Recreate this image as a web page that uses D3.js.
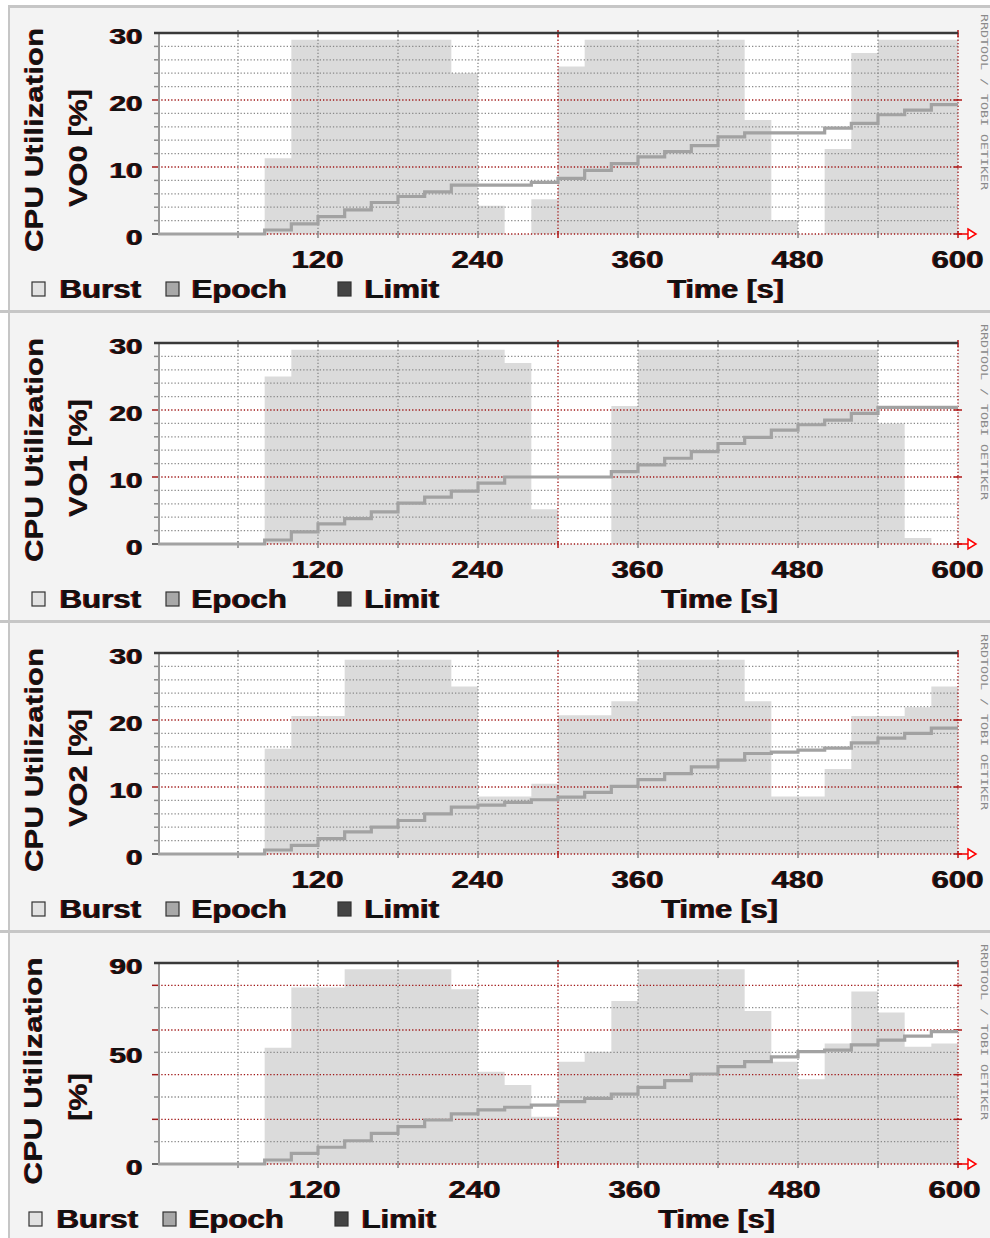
<!DOCTYPE html>
<html><head><meta charset="utf-8">
<script src="https://cdn.jsdelivr.net/npm/d3@7"></script>
<style>html,body{margin:0;padding:0;background:#fff;} svg{display:block}</style>
</head><body><svg id="c" width="990" height="1238"></svg>
<script>
// ---- data ----
const binStart = [0,20,40,60,80,100,120,140,160,180,200,220,240,260,280,300,320,340,360,380,400,420,440,460,480,500,520,540,560,580];
const binEnd = 600;
const panelNames = ["VO0","VO1","VO2",""];
const burstVO0 = [0,0,0,0,11.3,29,29,29,29,29,29,24,4.2,0,5.2,25,29,29,29,29,29,29,17,2.1,0,12.7,27,29,29,29];
const epochVO0 = [0,0,0,0,0.6,1.5,2.6,3.6,4.7,5.6,6.3,7.3,7.3,7.3,7.7,8.3,9.5,10.5,11.5,12.3,13.2,14.5,15.1,15.1,15.1,15.8,16.5,17.8,18.5,19.3];
const burstVO1 = [0,0,0,0,25,29,29,29,29,29,29,29,29,27,5.2,0,0,20.6,29,29,29,29,29,29,29,29,29,18,0.9,0];
const epochVO1 = [0,0,0,0,0.6,1.8,3.0,3.8,4.8,6.1,7.0,7.9,9.1,10,10,10,10,10.8,11.8,12.8,13.8,15,15.9,17,17.8,18.5,19.5,20.4,20.4,20.4];
const burstVO2 = [0,0,0,0,15.7,20.6,20.6,29,29,29,29,25,8.6,8.6,10.5,20.7,20.7,22.8,29,29,29,29,22.8,8.6,8.6,12.7,20.6,20.6,21.9,25];
const epochVO2 = [0,0,0,0,0.6,1.3,2.3,3.3,4.0,5.0,6.0,7.0,7.3,7.7,8.1,8.5,9.2,10.1,11.1,12.0,13,14,15,15.2,15.5,15.8,16.6,17.3,18,18.8];
const burstTotal = [0,0,0,0,52,79,79,87.2,87.2,87.2,87.2,78.2,41.3,35.4,21.2,45.8,50.3,73,87.2,87.2,87.2,87.2,68.5,45.8,38,54,77.2,67.8,52.5,54];
const epochTotal = [0,0,0,0,1.8,4.8,7.5,10.4,13.7,16.7,19.7,22.4,24.2,25.4,26.4,27.9,29.4,31.3,34.3,37.3,40.3,43.6,45.8,48,50.3,51,53.3,55.5,57.3,59.3];
const limitValues = [30,30,30,90];
const yMaxValues = [30,30,30,90];
const yTickLabelsVO = [0,10,20,30];
const yTickLabelsTotal = [0,50,90];
const xTickLabels = [120,240,360,480,600];
const legendLabels = ["Burst","Epoch","Limit"];
const axisTitleX = "Time [s]";
const axisTitleY = "CPU Utilization";
const watermark = "RRDTOOL / TOBI OETIKER";

const bursts = [burstVO0,burstVO1,burstVO2,burstTotal];
const epochs = [epochVO0,epochVO1,epochVO2,epochTotal];

// ---- layout ----
const svg = d3.select("#c");
const PH = 310, L = 158, R = 958, T = 33, B = 234;
const FONT = "'Liberation Sans', Arial, sans-serif";
const SX = 1.25;

function label(g, s, x, y, o) {
  o = o || {};
  const size = o.size || 24, anchor = o.anchor || "start", rot = o.rot || 0, sx = o.sx || SX;
  [["#8a0c0c", -1.2], ["#111", 0]].forEach(([col, dx]) => {
    g.append("text")
      .attr("transform", `translate(${x+dx},${y}) rotate(${rot}) scale(${sx},1)`)
      .attr("text-anchor", anchor)
      .attr("font-family", FONT).attr("font-weight", "bold")
      .attr("font-size", size).attr("fill", col).text(s);
  });
}

svg.append("rect").attr("width", 990).attr("height", 1238).attr("fill", "#fff");
svg.append("rect").attr("x", 10).attr("y", 7).attr("width", 990).attr("height", 1238)
  .attr("fill", "#f3f3f3");
svg.append("line").attr("x1", 9).attr("x2", 9).attr("y1", 5).attr("y2", 1238)
  .attr("stroke", "#c6c6c6").attr("stroke-width", 2);

bursts.forEach((burst, i) => {
  const epoch = epochs[i];
  const ymax = yMaxValues[i];
  const g = svg.append("g").attr("transform", `translate(0,${i*PH})`);
  g.append("rect").attr("x", i === 0 ? 8 : 0).attr("y", i === 0 ? 5 : 0).attr("width", 990).attr("height", 3)
    .attr("fill", "#c6c6c6");

  const x = d3.scaleLinear().domain([0, binEnd]).range([L, R]);
  const y = d3.scaleLinear().domain([0, ymax]).range([B, T]);

  g.append("rect").attr("x", L).attr("y", T).attr("width", R-L).attr("height", B-T).attr("fill", "#fff");

  const pts = binStart.map((t, k) => ({t, b: burst[k], e: epoch[k]}));
  pts.push({t: binEnd, b: burst[burst.length-1], e: epoch[epoch.length-1]});

  g.append("path").datum(pts)
    .attr("d", d3.area().curve(d3.curveStepAfter).x(d => x(d.t)).y0(y(0)).y1(d => y(d.b)))
    .attr("fill", "#dbdbdb");

  const minorStep = ymax === 90 ? 10 : 2;
  const majorStep = ymax === 90 ? 20 : 10;
  const hv = d3.range(0, ymax + 0.001, minorStep);
  hv.forEach(v => {
    if (v === ymax) return;
    const major = Math.abs(v / majorStep - Math.round(v / majorStep)) < 1e-6;
    g.append("line").attr("x1", L).attr("x2", R).attr("y1", y(v)).attr("y2", y(v))
      .attr("stroke", major ? "#a01818" : "#8a8a8a").attr("stroke-width", 1.3)
      .attr("stroke-dasharray", "1.3,2");
    g.append("line").attr("x1", major ? L-6 : L-4).attr("x2", L).attr("y1", y(v)).attr("y2", y(v))
      .attr("stroke", major ? (v===0 ? "#333" : "#a01818") : "#888").attr("stroke-width", 1.5);
    if (major) g.append("line").attr("x1", R-4).attr("x2", R+4).attr("y1", y(v)).attr("y2", y(v))
      .attr("stroke", "#b01818").attr("stroke-width", 1.5);
  });
  const vv = d3.range(60, 601, 60);
  vv.forEach(t => {
    const major = t % 300 === 0;
    g.append("line").attr("x1", x(t)).attr("x2", x(t)).attr("y1", T).attr("y2", B)
      .attr("stroke", major ? "#a01818" : "#8a8a8a").attr("stroke-width", 1.3)
      .attr("stroke-dasharray", "1.3,2");
    g.append("line").attr("x1", x(t)).attr("x2", x(t)).attr("y1", B-3).attr("y2", B+4)
      .attr("stroke", major ? "#b01818" : "#888").attr("stroke-width", 1.5);
    g.append("line").attr("x1", x(t)).attr("x2", x(t)).attr("y1", T-3).attr("y2", T+4)
      .attr("stroke", major ? "#b01818" : "#888").attr("stroke-width", 1.5);
  });
  g.append("line").attr("x1", L+1).attr("x2", L+1).attr("y1", T).attr("y2", B)
    .attr("stroke", "#999").attr("stroke-width", 2);

  g.append("path").datum(pts)
    .attr("d", d3.line().curve(d3.curveStepAfter).x(d => x(d.t)).y(d => y(d.e)))
    .attr("fill", "none").attr("stroke", "#a2a2a2").attr("stroke-width", 3.2);

  g.append("line").attr("x1", L-4).attr("x2", R).attr("y1", y(limitValues[i])).attr("y2", y(limitValues[i]))
    .attr("stroke", "#3a3a3a").attr("stroke-width", 2.4);

  g.append("line").attr("x1", R).attr("x2", R+10).attr("y1", B).attr("y2", B)
    .attr("stroke", "#e00").attr("stroke-width", 1.5);
  g.append("path").attr("d", `M${R+10},${B-5}L${R+18},${B}L${R+10},${B+5}Z`)
    .attr("fill", "#fff").attr("stroke", "#f00").attr("stroke-width", 1.5);

  const shift = i === 3 ? -3 : 0;
  const yl = ymax === 90 ? yTickLabelsTotal : yTickLabelsVO;
  yl.forEach(v => label(g, String(v), 143, y(v) + 11, {anchor: "end", size: 22, sx: 1.35}));
  xTickLabels.forEach(t => label(g, String(t), x(t) + shift, 268, {anchor: "middle", size: 23, sx: 1.35}));

  if (panelNames[i]) {
    label(g, axisTitleY, 43, 140, {anchor: "middle", rot: -90, size: 23, sx: 1.36});
    label(g, panelNames[i] + " [%]", 87, 148, {anchor: "middle", rot: -90, size: 23, sx: 1.34});
  } else {
    label(g, axisTitleY, 42, 141, {anchor: "middle", rot: -90, size: 23, sx: 1.38});
    label(g, "[%]", 87, 167, {anchor: "middle", rot: -90, size: 23, sx: 1.34});
  }

  const boxX = [32, 166, 338], txtX = [60, 192, 365], boxFill = ["#e2e2e2", "#a8a8a8", "#444"];
  legendLabels.forEach((s, k) => {
    g.append("rect").attr("x", boxX[k] + shift).attr("y", 282).attr("width", 13).attr("height", 14)
      .attr("fill", boxFill[k]).attr("stroke", "#333").attr("stroke-width", 1.2);
    label(g, s, txtX[k] + shift, 298, {size: 25});
  });
  label(g, axisTitleX, (i === 0 ? 668 : 662) + shift, 298, {size: 25, sx: 1.22});

  g.append("text").attr("transform", `translate(981,14) rotate(90)`)
    .attr("font-family", "'DejaVu Sans Mono', monospace").attr("font-size", 9)
    .attr("fill", "#8a8a8a").attr("textLength", 176).attr("lengthAdjust", "spacingAndGlyphs")
    .text(watermark);
});
</script></body></html>
